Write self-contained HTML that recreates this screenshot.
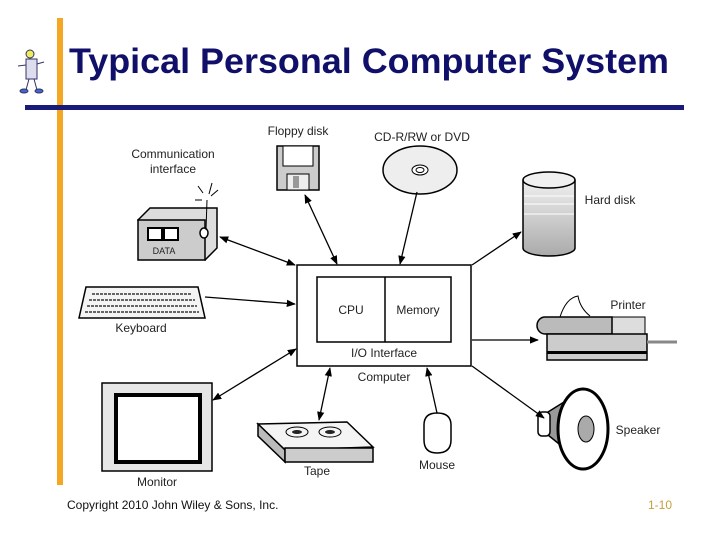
<!DOCTYPE html>
<html><head><meta charset="utf-8"><style>
html,body{margin:0;padding:0;background:#fff;}
svg{display:block;}
text{font-family:"Liberation Sans",Arial,sans-serif;}
</style></head><body>
<svg width="720" height="540" viewBox="0 0 720 540" xmlns="http://www.w3.org/2000/svg">
<defs>
<marker id="a" viewBox="0 0 10 10" refX="9" refY="5" markerWidth="7" markerHeight="7" orient="auto-start-reverse"><path d="M0,1 L10,5 L0,9 z" fill="#000"/></marker>
<linearGradient id="g" x1="0" x2="0" y1="0" y2="1"><stop offset="0" stop-color="#f0f0f0"/><stop offset="1" stop-color="#aaa"/></linearGradient>
</defs>
<rect x="57" y="18" width="6" height="467" fill="#f5a623"/>
<rect x="25" y="105" width="659" height="5" fill="#1a1a7a"/>
<text x="69" y="73" font-size="35" font-weight="bold" fill="#10106a" textLength="600" lengthAdjust="spacingAndGlyphs">Typical Personal Computer System</text>
<!-- logo figure -->
<g stroke="#336" stroke-width="1" fill="#ddd">
<circle cx="30" cy="54" r="4" fill="#ee5"/>
<rect x="26" y="59" width="11" height="20" fill="#dde"/>
<path d="M26,65 L18,66 M37,64 L44,62 M29,79 L26,90 M34,79 L37,90" fill="none"/>
<ellipse cx="24" cy="91" rx="4" ry="2" fill="#46c"/><ellipse cx="39" cy="91" rx="4" ry="2" fill="#46c"/>
</g>
<!-- computer -->
<rect x="297" y="265" width="174" height="101" fill="#fff" stroke="#000" stroke-width="1.5"/>
<rect x="317" y="277" width="134" height="65" fill="#fff" stroke="#000" stroke-width="1.5"/>
<line x1="385" y1="277" x2="385" y2="342" stroke="#000" stroke-width="1.5"/>
<g font-size="12" fill="#222" text-anchor="middle">
<text x="351" y="314">CPU</text><text x="418" y="314">Memory</text>
<text x="384" y="357">I/O Interface</text><text x="384" y="381">Computer</text>
<text x="298" y="135">Floppy disk</text><text x="422" y="141">CD-R/RW or DVD</text>
<text x="173" y="158">Communication</text><text x="173" y="173">interface</text>
<text x="141" y="332">Keyboard</text><text x="157" y="486">Monitor</text>
<text x="317" y="475">Tape</text><text x="437" y="469">Mouse</text>
<text x="610" y="204">Hard disk</text><text x="628" y="309">Printer</text>
<text x="638" y="434">Speaker</text>
</g>
<!-- floppy -->
<rect x="277" y="146" width="42" height="44" fill="#ccc" stroke="#000" stroke-width="1.5"/>
<rect x="283" y="146" width="30" height="20" fill="#fff" stroke="#000"/>
<rect x="287" y="174" width="22" height="16" fill="#eee" stroke="#000"/>
<rect x="293" y="176" width="6" height="12" fill="#999"/>
<!-- CD -->
<ellipse cx="420" cy="170" rx="37" ry="24" fill="#eee" stroke="#000" stroke-width="1.5"/>
<ellipse cx="420" cy="170" rx="8" ry="5" fill="#fff" stroke="#000"/>
<ellipse cx="420" cy="170" rx="4" ry="2.5" fill="none" stroke="#000"/>
<!-- hard disk -->
<path d="M523,180 L523,248 A26,8 0 0 0 575,248 L575,180" fill="url(#g)" stroke="#000" stroke-width="1.5"/>
<ellipse cx="549" cy="180" rx="26" ry="8" fill="#f0f0f0" stroke="#000" stroke-width="1.5"/>
<g stroke="#fff"><line x1="524" y1="196" x2="574" y2="196"/><line x1="524" y1="204" x2="574" y2="204"/><line x1="524" y1="214" x2="574" y2="214"/></g>
<!-- comm -->
<path d="M138,220 L150,208 L217,208 L217,248 L205,260 Z" fill="#ddd" stroke="#000" stroke-width="1.5"/>
<rect x="138" y="220" width="67" height="40" fill="#ccc" stroke="#000" stroke-width="1.5"/>
<rect x="148" y="228" width="14" height="12" fill="#fff" stroke="#000" stroke-width="2"/>
<rect x="164" y="228" width="14" height="12" fill="#fff" stroke="#000" stroke-width="2"/>
<text x="164" y="254" font-size="9" text-anchor="middle" fill="#222">DATA</text>
<ellipse cx="204" cy="233" rx="4" ry="5" fill="#fff" stroke="#000" stroke-width="1.5"/>
<path d="M206,230 L207,200 M198,186 L203,193 M212,183 L209,194 M218,190 L211,196 M195,200 L202,200" stroke="#000" fill="none"/>
<!-- keyboard -->
<path d="M86,287 L198,287 L205,318 L79,318 Z" fill="#f4f4f4" stroke="#000" stroke-width="1.5"/>
<g stroke="#666" stroke-width="2" stroke-dasharray="3,1"><line x1="92" y1="294" x2="192" y2="294"/><line x1="89" y1="300" x2="195" y2="300"/><line x1="87" y1="306" x2="197" y2="306"/><line x1="85" y1="312" x2="199" y2="312"/></g>
<!-- printer -->
<path d="M560,317 Q566,298 578,296 Q580,308 590,316" fill="#fff" stroke="#000"/>
<rect x="612" y="317" width="33" height="17" fill="#ddd" stroke="#000"/>
<path d="M545,317 L612,317 L612,334 L545,334 A8,8.5 0 0 1 545,317Z" fill="#bbb" stroke="#000" stroke-width="1.5"/>
<rect x="547" y="334" width="100" height="26" fill="#ccc" stroke="#000" stroke-width="1.5"/>
<rect x="547" y="351" width="100" height="3" fill="#000"/>
<line x1="647" y1="342" x2="677" y2="342" stroke="#888" stroke-width="3"/>
<!-- monitor -->
<rect x="102" y="383" width="110" height="88" fill="#e6e6e6" stroke="#000" stroke-width="1.5"/>
<rect x="116" y="395" width="84" height="67" fill="#fff" stroke="#000" stroke-width="4"/>
<!-- tape -->
<path d="M258,424 L347,422 L373,447 L285,450 Z" fill="#f4f4f4" stroke="#000" stroke-width="1.5"/>
<path d="M258,424 L285,450 L285,462 L258,436 Z" fill="#bbb" stroke="#000" stroke-width="1.5"/>
<rect x="285" y="448" width="88" height="14" fill="#ccc" stroke="#000" stroke-width="1.5"/>
<ellipse cx="297" cy="432" rx="11" ry="5" fill="none" stroke="#000"/><ellipse cx="330" cy="432" rx="11" ry="5" fill="none" stroke="#000"/>
<ellipse cx="297" cy="432" rx="5" ry="2" fill="#222"/><ellipse cx="330" cy="432" rx="5" ry="2" fill="#222"/>
<!-- mouse -->
<path d="M424,425 Q424,413 437,413 Q451,413 451,425 L451,440 Q451,453 437,453 Q424,453 424,440 Z" fill="#fff" stroke="#000" stroke-width="1.5"/>
<!-- speaker -->
<path d="M548,412 L580,392 L585,465 L548,435 Z" fill="#999" stroke="#000" stroke-width="1.5"/>
<rect x="538" y="412" width="12" height="24" rx="4" fill="#fff" stroke="#000" stroke-width="1.5"/>
<ellipse cx="583" cy="429" rx="25" ry="40" fill="#fff" stroke="#000" stroke-width="3"/>
<ellipse cx="586" cy="429" rx="8" ry="13" fill="#aaa" stroke="#000"/>
<!-- arrows -->
<g stroke="#000" stroke-width="1.3" fill="none">
<line x1="220" y1="237" x2="295" y2="265" marker-start="url(#a)" marker-end="url(#a)"/>
<line x1="305" y1="195" x2="337" y2="264" marker-start="url(#a)" marker-end="url(#a)"/>
<line x1="417" y1="192" x2="400" y2="264" marker-end="url(#a)"/>
<line x1="472" y1="265" x2="521" y2="232" marker-end="url(#a)"/>
<line x1="205" y1="297" x2="295" y2="304" marker-end="url(#a)"/>
<line x1="472" y1="340" x2="538" y2="340" marker-end="url(#a)"/>
<line x1="296" y1="349" x2="213" y2="400" marker-start="url(#a)" marker-end="url(#a)"/>
<line x1="330" y1="368" x2="319" y2="420" marker-start="url(#a)" marker-end="url(#a)"/>
<line x1="437" y1="413" x2="427" y2="368" marker-end="url(#a)"/>
<line x1="472" y1="366" x2="544" y2="418" marker-end="url(#a)"/>
</g>
<text x="67" y="509" font-size="12" fill="#111">Copyright 2010 John Wiley &amp; Sons, Inc.</text>
<text x="648" y="509" font-size="12" fill="#c8a040">1-10</text>
</svg>
</body></html>
